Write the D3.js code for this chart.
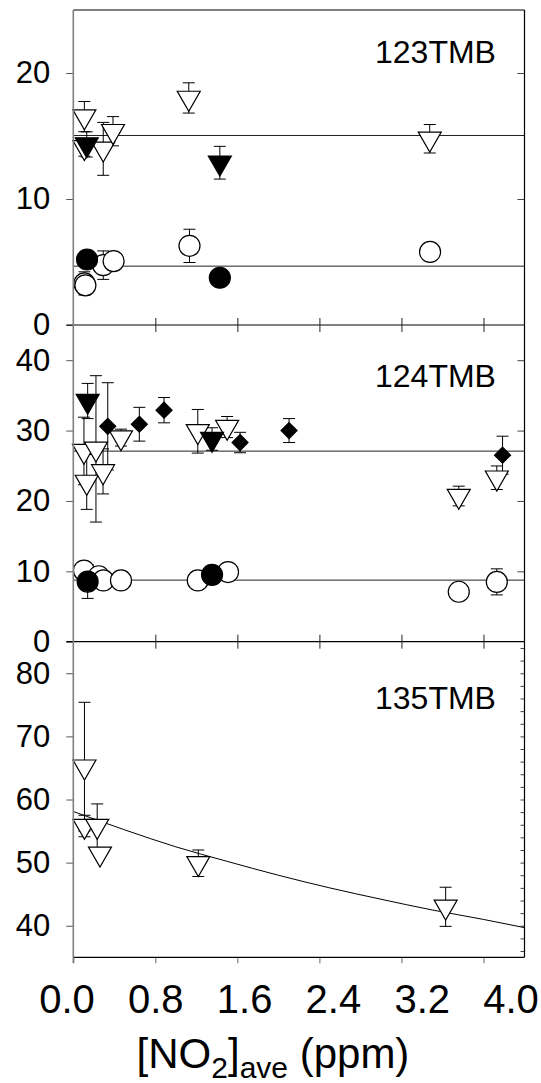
<!DOCTYPE html>
<html>
<head>
<meta charset="utf-8">
<script src="https://cdn.jsdelivr.net/npm/d3@7"></script>
<style>
  body { margin: 0; background: #fff; }
  svg text { font-family: "Liberation Sans", Arial, sans-serif; fill: #000; }
</style>
</head>
<body>
<div id="chart"></div>
<script>
// x ticks (axis runs to 4.4) and the printed x labels
var xTicks = [0.8, 1.6, 2.4, 3.2, 4.0];
var xLabels = [0.0, 0.8, 1.6, 2.4, 3.2, 4.0];

// 123TMB  [x, y, err]
var tmb123OpenTri = [[0.108, 16.54, 1.2], [0.292, 13.98, 2.1], [0.387, 15.38, 1.16], [0.108, 14.1, 0.7], [1.126, 18.02, 1.2], [3.476, 14.78, 1.13]];
var tmb123FillTri = [[0.131, 14.33, 1.0], [1.429, 12.88, 1.3]];
var tmb123OpenCirc = [[0.108, 3.3, 0.92], [0.118, 3.15, 0], [0.292, 4.75, 1.13], [0.393, 5.07, 0], [1.133, 6.28, 1.32], [3.479, 5.8, 0]];
var tmb123FillCirc = [[0.134, 5.2, 0], [1.429, 3.75, 0]];
var tmb123Means = [15.04, 4.67];

// 124TMB
var tmb124OpenTri = [[0.104, 27.1, 4.8], [0.131, 22.7, 3.9], [0.221, 27.4, 10.4], [0.29, 24.2, 3.2], [0.465, 29.0, 1.2], [1.214, 29.9, 3.1], [1.5, 30.5, 1.5], [3.759, 20.7, 1.4], [4.13, 23.3, 1.67]];
var tmb124FillTri = [[0.14, 34.2, 2.5], [1.353, 28.8, 1.6]];
var tmb124Diamond = [[0.336, 30.6, 6.2], [0.644, 30.9, 2.4], [0.885, 32.9, 1.8], [1.626, 28.3, 1.45], [2.104, 30.0, 1.7], [4.186, 26.5, 2.7]];
var tmb124OpenCirc = [[0.104, 10.1, 1.0], [0.248, 9.3, 0], [0.293, 8.7, 0], [0.465, 8.7, 0], [1.214, 8.7, 0], [1.509, 9.9, 0], [3.759, 7.1, 0], [4.13, 8.5, 1.85]];
var tmb124FillCirc = [[0.14, 8.55, 2.4], [1.353, 9.5, 0]];
var tmb124Means = [27.08, 8.75];

// 135TMB
var tmb135OpenTri = [[0.109, 65.2, 10.2], [0.109, 55.8, 1.7], [0.233, 55.8, 3.5], [0.26, 51.4, 0], [1.219, 49.9, 2.1], [3.631, 43.0, 3.1]];
var tmb135CurveX = [0, 0.5, 1.0, 1.5, 2.0, 2.5, 3.0, 3.5, 4.0, 4.4];
var tmb135CurveY = [58.1, 55.2, 52.5, 50.2, 48.0, 46.0, 44.2, 42.5, 41.0, 39.7];

var W = 541, H = 1083;
var left = 73.3, right = 524.5;

var svg = d3.select("#chart").append("svg").attr("width", W).attr("height", H);

var x = d3.scaleLinear().domain([0, 4.4]).range([left, right]);
var xLbl = d3.scaleLinear().domain([0, 4]).range([67, 511]);

var panels = [
  {name: "123TMB", top: 10, bottom: 325, dom: [0, 25], labels: [0, 10, 20], rightTicks: [10, 20], minor: false, labelY: 63},
  {name: "124TMB", top: 325, bottom: 641.7, dom: [0, 45], labels: [0, 10, 20, 30, 40], rightTicks: [10, 20, 30, 40], minor: false, labelY: 387},
  {name: "135TMB", top: 641.7, bottom: 957.3, dom: [35, 85], labels: [40, 50, 60, 70, 80], rightTicks: d3.range(36, 85, 2), minor: true, labelY: 709}
];
panels.forEach(function(p) {
  p.y = d3.scaleLinear().domain(p.dom).range([p.bottom, p.top]);
});

var triPath = "M-11.5,-6.7L11.5,-6.7L0,13.3Z";
var diaPath = "M0,-8L8,0L0,8L-8,0Z";

function errBars(g, y, data) {
  data.filter(function(d) { return d[2] > 0; }).forEach(function(d) {
    var cx = x(d[0]), y1 = y(d[1] + d[2]), y2 = y(d[1] - d[2]);
    g.append("line").attr("x1", cx).attr("x2", cx).attr("y1", y1).attr("y2", y2);
    g.append("line").attr("x1", cx - 6).attr("x2", cx + 6).attr("y1", y1).attr("y2", y1);
    g.append("line").attr("x1", cx - 6).attr("x2", cx + 6).attr("y1", y2).attr("y2", y2);
  });
}

function markers(g, y, data, shape, fill) {
  var sel = g.selectAll(null).data(data).enter();
  if (shape === "circle") {
    sel.append("circle")
      .attr("cx", function(d) { return x(d[0]); })
      .attr("cy", function(d) { return y(d[1]); })
      .attr("r", 10.5)
      .attr("fill", fill).attr("stroke", "#000").attr("stroke-width", 1.2);
  } else {
    sel.append("path")
      .attr("d", shape === "tri" ? triPath : diaPath)
      .attr("transform", function(d) { return "translate(" + x(d[0]) + "," + y(d[1]) + ")"; })
      .attr("fill", fill).attr("stroke", "#000").attr("stroke-width", 1.2);
  }
}

function meanLines(g, y, vals) {
  g.selectAll(null).data(vals).enter().append("line")
    .attr("x1", left).attr("x2", right)
    .attr("y1", function(v) { return y(v); }).attr("y2", function(v) { return y(v); })
    .attr("stroke", "#222").attr("stroke-width", 1);
}

// axes per panel
panels.forEach(function(p, i) {
  var ax = svg.append("g").attr("transform", "translate(" + left + ",0)")
    .call(d3.axisLeft(p.y).tickValues(p.labels).tickSize(7).tickPadding(16).tickFormat(d3.format("d")));
  ax.select(".domain").remove();
  ax.selectAll("line").attr("stroke", "#555");
  ax.selectAll("text").attr("font-size", 31).attr("font-family", "Liberation Sans, Arial, sans-serif");

  var rx = svg.append("g").attr("transform", "translate(" + right + ",0)")
    .call(d3.axisLeft(p.y).tickValues(p.rightTicks).tickSize(p.minor ? 4 : 7).tickFormat(""));
  rx.select(".domain").remove();
  rx.selectAll("line").attr("stroke", "#444");

  p.g = svg.append("g").attr("stroke", "#000").attr("stroke-width", 1);
  p.gm = svg.append("g");

  svg.append("text").attr("x", 375).attr("y", p.labelY).attr("font-size", 32).text(p.name);
});

// zero lines between panels with crossing ticks
[325, 641.7].forEach(function(yy) {
  svg.append("line").attr("x1", left - 7).attr("x2", right).attr("y1", yy).attr("y2", yy)
    .attr("stroke", "#000").attr("stroke-width", 1.2);
  var t1 = svg.append("g").attr("transform", "translate(0," + yy + ")")
    .call(d3.axisBottom(x).tickValues(xTicks).tickSize(7).tickFormat(""));
  var t2 = svg.append("g").attr("transform", "translate(0," + yy + ")")
    .call(d3.axisTop(x).tickValues(xTicks).tickSize(7).tickFormat(""));
  [t1, t2].forEach(function(t) { t.select(".domain").remove(); t.selectAll("line").attr("stroke", "#222"); });
});

// bottom axis
var bx = svg.append("g").attr("transform", "translate(0,957.3)")
  .call(d3.axisBottom(x).tickValues([0].concat(xTicks)).tickSize(6).tickFormat(""));
bx.select(".domain").remove();
bx.selectAll("line").attr("stroke", "#666");
svg.append("line").attr("x1", left).attr("x2", right).attr("y1", 957.3).attr("y2", 957.3)
  .attr("stroke", "#000").attr("stroke-width", 1.2);

// frame: top, right, left (grey)
svg.append("line").attr("x1", left).attr("x2", right).attr("y1", 10).attr("y2", 10).attr("stroke", "#000");
svg.append("line").attr("x1", right).attr("x2", right).attr("y1", 10).attr("y2", 957.3).attr("stroke", "#000").attr("stroke-width", 1.2);
svg.append("line").attr("x1", left).attr("x2", left).attr("y1", 10).attr("y2", 963).attr("stroke", "#808080").attr("stroke-width", 1.6);

// x tick labels
svg.selectAll(".xl").data(xLabels).enter().append("text")
  .attr("x", function(d) { return xLbl(d); }).attr("y", 1013)
  .attr("text-anchor", "middle").attr("font-size", 40)
  .text(function(d) { return d3.format(".1f")(d); });

// x title
var title = svg.append("text").attr("x", 273).attr("y", 1068).attr("text-anchor", "middle").attr("font-size", 42);
title.append("tspan").text("[NO");
title.append("tspan").attr("font-size", 30).attr("dy", 10).text("2");
title.append("tspan").attr("dy", -10).text("]");
title.append("tspan").attr("font-size", 30).attr("dy", 10).text("ave");
title.append("tspan").attr("dy", -10).text(" (ppm)");

// 123TMB
var p1 = panels[0];
meanLines(p1.g, p1.y, tmb123Means);
[tmb123OpenTri, tmb123FillTri, tmb123OpenCirc, tmb123FillCirc].forEach(function(s) { errBars(p1.g, p1.y, s); });
markers(p1.gm, p1.y, tmb123OpenCirc, "circle", "#fff");
markers(p1.gm, p1.y, tmb123FillCirc, "circle", "#000");
markers(p1.gm, p1.y, tmb123OpenTri, "tri", "#fff");
markers(p1.gm, p1.y, tmb123FillTri, "tri", "#000");

// 124TMB
var p2 = panels[1];
meanLines(p2.g, p2.y, tmb124Means);
[tmb124OpenTri, tmb124FillTri, tmb124Diamond, tmb124OpenCirc, tmb124FillCirc].forEach(function(s) { errBars(p2.g, p2.y, s); });
markers(p2.gm, p2.y, tmb124OpenCirc, "circle", "#fff");
markers(p2.gm, p2.y, tmb124FillCirc, "circle", "#000");
markers(p2.gm, p2.y, tmb124OpenTri, "tri", "#fff");
markers(p2.gm, p2.y, tmb124FillTri, "tri", "#000");
markers(p2.gm, p2.y, tmb124Diamond, "dia", "#000");

// 135TMB
var p3 = panels[2];
var curve = d3.line().x(function(d) { return x(d[0]); }).y(function(d) { return p3.y(d[1]); }).curve(d3.curveMonotoneX);
p3.g.append("path").datum(d3.zip(tmb135CurveX, tmb135CurveY)).attr("d", curve).attr("fill", "none");
errBars(p3.g, p3.y, tmb135OpenTri);
markers(p3.gm, p3.y, tmb135OpenTri, "tri", "#fff");
</script>
</body>
</html>
